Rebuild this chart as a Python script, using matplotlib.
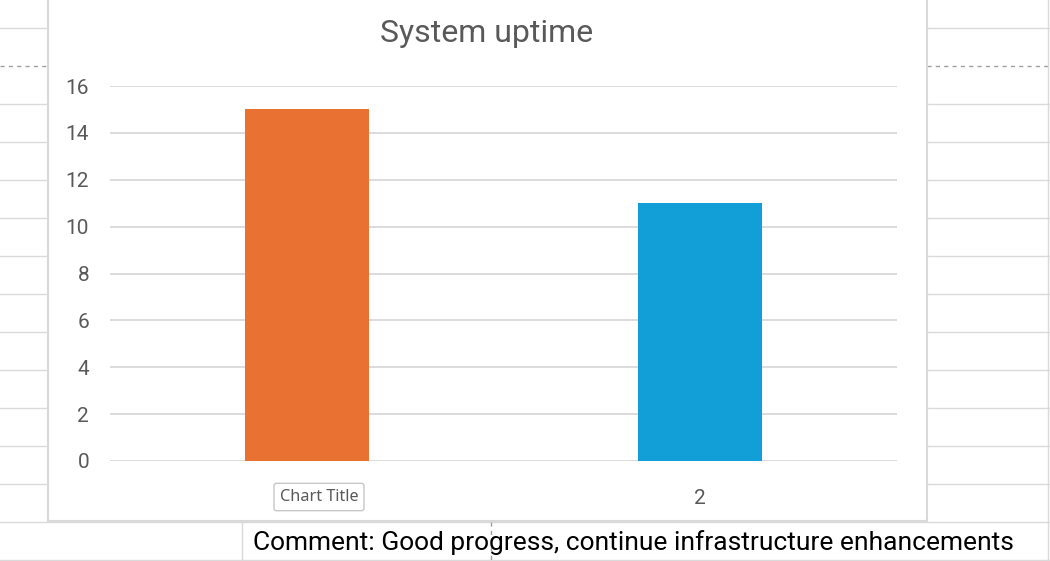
import numpy as np
import matplotlib.pyplot as plt
from matplotlib.lines import Line2D
from matplotlib.patches import Rectangle

categories = ['1', '2']
uptime = [15, 11]
colors = ['#E97132', '#129FD7']
title = 'System uptime'
comment = 'Comment: Good progress, continue infrastructure enhancements'

W, H = 1050, 561
fig = plt.figure(figsize=(W / 100, H / 100), dpi=100)
fig.patch.set_facecolor('white')


def px(x, y):
    # pixel coords (from top-left) -> figure fraction
    return x / W, 1 - y / H


def hline(x0, x1, y, **kw):
    (a, b), (c, d) = px(x0, y), px(x1, y)
    fig.add_artist(Line2D([a, c], [b, d], transform=fig.transFigure, **kw))


def vline(x, y0, y1, **kw):
    (a, b), (c, d) = px(x, y0), px(x, y1)
    fig.add_artist(Line2D([a, c], [b, d], transform=fig.transFigure, **kw))


# spreadsheet cell grid around the chart
cell = dict(color='#DADADA', lw=1, zorder=0)
for y in [28, 104, 142, 180, 218, 256, 294, 332, 370, 408, 446, 484]:
    hline(0, 48, y, **cell)
    hline(927, W, y, **cell)
hline(0, 48, 66, color='#A0A0A0', lw=1, ls=(0, (3, 3)), zorder=0)
hline(927, W, 66, color='#A0A0A0', lw=1, ls=(0, (3, 3)), zorder=0)
hline(0, W, 522, **cell)
hline(0, W, 560, **cell)
vline(242, 522, H, **cell)
vline(1048, 0, H, **cell)
vline(491, 522, H, color='#A0A0A0', lw=1, ls=(0, (3, 3)), zorder=0)

# chart area frame
x0, y0 = px(48, 521)
x1, y1 = px(927, -2)
fig.add_artist(Rectangle((x0, y0), x1 - x0, y1 - y0, transform=fig.transFigure,
                         fc='white', ec='#D9D9D9', lw=1.5, zorder=1))

l, t = px(110, 86)
r, b = px(897, 461)
ax = fig.add_axes([l, b, r - l, t - b], zorder=2)
ax.patch.set_alpha(0)

x = np.arange(len(categories))
ax.bar(x, uptime, width=0.315, color=colors, zorder=3)
ax.set_xlim(-0.5, len(categories) - 0.5)
ax.set_ylim(0, 16)
ax.set_yticks(np.arange(0, 17, 2))
ax.set_xticks(x)
ax.set_xticklabels(categories)
ax.yaxis.grid(True, color='#D9D9D9', lw=1.3, zorder=0)
ax.set_axisbelow(True)
for s in ax.spines.values():
    s.set_visible(False)
ax.tick_params(length=0, labelsize=15, labelcolor='#595959')
ax.tick_params(axis='y', pad=15)
ax.tick_params(axis='x', pad=20)
for lab in ax.get_xticklabels() + ax.get_yticklabels():
    lab.set_family('Roboto')
# first category label sits under the hover tooltip
ax.get_xticklabels()[0].set_visible(False)

fig.text(*px(487, 33), title, ha='center', va='center', fontsize=23,
         color='#595959', family='Roboto', zorder=5)

# hover tooltip over the first category label
tx, ty = px(319, 497)
fig.text(tx, ty, 'Chart Title', ha='center', va='center', fontsize=11.7,
         color='#595959', family='Noto Sans', zorder=6,
         bbox=dict(boxstyle='round,pad=0.35,rounding_size=0.15', fc='white',
                   ec='#C8C8C8', lw=1))

fig.text(*px(253, 543), comment, ha='left', va='center', fontsize=19,
         color='black', family='Roboto', zorder=5)

fig.savefig('out.png', dpi=100)
